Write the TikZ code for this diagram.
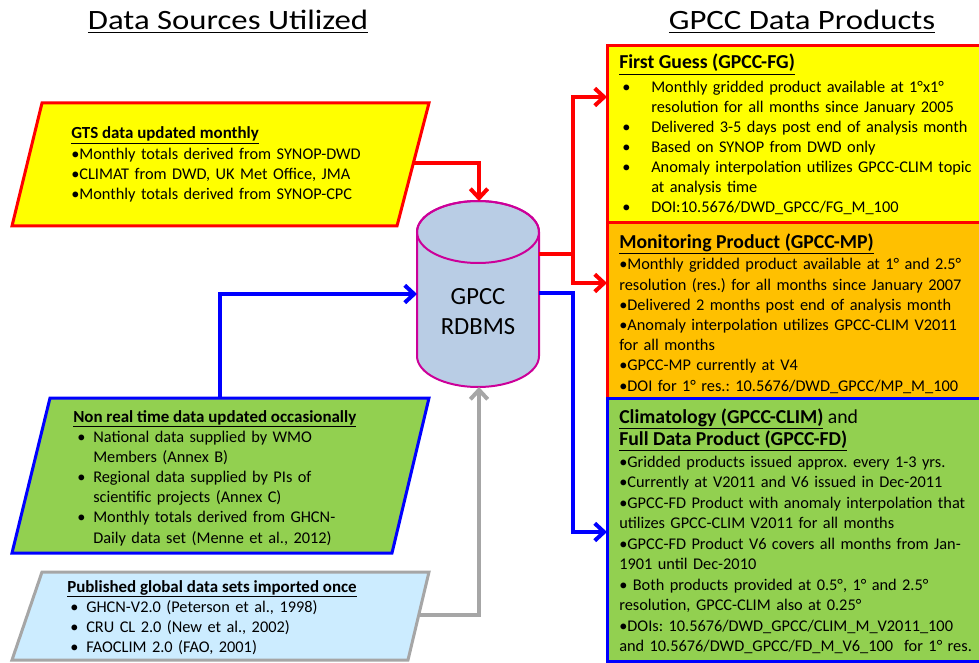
\documentclass[tikz,border=0pt]{standalone}
\usepackage{fontspec}
\setmainfont{Carlito}
\newfontfamily\titlefont[FakeStretch=1.17]{Carlito}
\usetikzlibrary{arrows.meta}
\definecolor{cyellow}{HTML}{FFFF00}
\definecolor{cred}{HTML}{FF0000}
\definecolor{corange}{HTML}{FFC000}
\definecolor{cgreen}{HTML}{92D050}
\definecolor{cblue}{HTML}{0000FF}
\definecolor{clight}{HTML}{CCECFF}
\definecolor{cgray}{HTML}{A6A6A6}
\definecolor{ccylfill}{HTML}{B9CDE5}
\definecolor{ccyldraw}{HTML}{CC0099}
\newlength\px \setlength\px{0.75pt}
\newcommand\hb[3]{\makebox[#2\px][l]{\hspace*{#1\px}•}#3}
\newcommand\hc[2]{\hspace*{#1\px}#2}
\newcommand\ttl[1]{\textbf{\underline{#1}}}
\tikzset{
  box/.style={line width=2.25pt, line join=miter},
  conn/.style={line width=3pt, line join=miter},
  arr/.style={-{Straight Barb[length=7pt,width=13pt]}},
  txt/.style={anchor=base west, inner sep=0pt, text width=370\px, align=left,
    font=\frenchspacing\fontsize{12.25}{#1}\selectfont},
  txt/.default={15},
  ltitle/.style={anchor=base west, inner sep=0pt, font=\fontsize{12.7}{15}\selectfont\bfseries},
  rtitle/.style={anchor=base west, inner sep=0pt, font=\fontsize{14.8}{17}\selectfont},
  head/.style={anchor=base, inner sep=0pt, font=\titlefont\fontsize{21}{25}\selectfont},
}
\begin{document}
\begin{tikzpicture}[x=0.75pt,y=-0.75pt]
\useasboundingbox (0,0) rectangle (979,663);
\begin{scope}
\clip (0,0) rectangle (979,663);
% titles
\node[head] (h1) at (228,30) {\underline{Data Sources Utilized}};
\node[head] (h2) at (802,30) {\underline{GPCC Data Products}};

% left boxes
\draw[box, fill=cyellow, draw=cred] (42,103) -- (429,103) -- (397,226) -- (12,226) -- cycle;
\draw[box, fill=cgreen, draw=cblue] (50,398) -- (429,398) -- (392,553) -- (12,553) -- cycle;
\draw[box, fill=clight, draw=cgray] (42,572) -- (429,572) -- (408,660) -- (12,660) -- cycle;

\node[ltitle] (gtsh) at (71,139) {\underline{GTS data updated monthly}};
\node[txt] (gts) at (71,160) {•Monthly totals derived from SYNOP-DWD\\
•CLIMAT from DWD, UK Met Office, JMA\\
•Monthly totals derived from SYNOP-CPC};

\node[ltitle] (nrth) at (73,422) {\underline{Non real time data updated occasionally}};
\node[txt=15.15] (nrt) at (73,442) {\hb{4}{20}{National data supplied by WMO}\\
\hc{20}{Members (Annex B)}\\
\hb{4}{20}{Regional data supplied by PIs of}\\
\hc{20}{scientific projects (Annex C)}\\
\hb{4}{20}{Monthly totals derived from GHCN-}\\
\hc{20}{Daily data set (Menne et al., 2012)}};

\node[ltitle] (pubh) at (67,592) {\underline{Published global data sets imported once}};
\node[txt] (pub) at (67,612) {\hb{3}{19}{GHCN-V2.0 (Peterson et al., 1998)}\\
\hb{3}{19}{CRU CL 2.0 (New et al., 2002)}\\
\hb{3}{19}{FAOCLIM 2.0 (FAO, 2001)}};

% right boxes
\draw[box, fill=cyellow, draw=cred] (607,46) rectangle (990,223);
\draw[box, fill=corange, draw=cred] (607,223) rectangle (990,398);
\draw[box, fill=cgreen, draw=cblue] (607,398) rectangle (990,661);

\node[rtitle] (fgh) at (619,69) {\ttl{First Guess (GPCC-FG)}};
\node[txt] (fg) at (619,93) {\hb{3}{32}{Monthly gridded product available at 1°x1°}\\
\hc{32}{resolution for all months since January 2005}\\
\hb{3}{32}{Delivered 3-5 days post end of analysis month}\\
\hb{3}{32}{Based on SYNOP from DWD only}\\
\hb{3}{32}{Anomaly interpolation utilizes GPCC-CLIM topic}\\
\hc{32}{at analysis time}\\
\hb{3}{32}{DOI:10.5676/DWD\_GPCC/FG\_M\_100}};

\node[rtitle] (mph) at (619,248) {\ttl{Monitoring Product (GPCC-MP)}};
\node[txt=15.15] (mp) at (619,270) {•Monthly gridded product available at 1° and 2.5°\\
resolution (res.) for all months since January 2007\\
•Delivered 2 months post end of analysis month\\
•Anomaly interpolation utilizes GPCC-CLIM V2011\\
for all months\\
•GPCC-MP currently at V4\\
•DOI for 1° res.: 10.5676/DWD\_GPCC/MP\_M\_100};

\node[rtitle] (fdh1) at (619,423) {\ttl{Climatology (GPCC-CLIM)} and};
\node[rtitle] (fdh2) at (619,445) {\ttl{Full Data Product (GPCC-FD)}};
\node[txt=15.4] (fd) at (619,467) {•Gridded products issued approx. every 1-3 yrs.\\
•Currently at V2011 and V6 issued in Dec-2011\\
•GPCC-FD Product with anomaly interpolation that\\
utilizes GPCC-CLIM V2011 for all months\\
•GPCC-FD Product V6 covers all months from Jan-\\
1901 until Dec-2010\\
• Both products provided at 0.5°, 1° and 2.5°\\
resolution, GPCC-CLIM also at 0.25°\\
•DOIs: 10.5676/DWD\_GPCC/CLIM\_M\_V2011\_100\\
and 10.5676/DWD\_GPCC/FD\_M\_V6\_100\ \ for 1° res.};

% database cylinder
\path[fill=ccylfill, draw=ccyldraw, line width=1.5pt]
  (417,232) -- (417,356) arc[start angle=180, end angle=0, x radius=61, y radius=31]
  -- (539,232) arc[start angle=0, end angle=-180, x radius=61, y radius=31] -- cycle;
\draw[draw=ccyldraw, line width=1.5pt] (478,232) ellipse [x radius=61, y radius=31];
\node[inner sep=0pt, align=center, font=\fontsize{18.5}{22.5}\selectfont] (db) at (478,312) {GPCC\\RDBMS};

% connector end points
\coordinate (dbT) at (479,201);
\coordinate (dbL) at (417,294);
\coordinate (dbB) at (479,387);
\coordinate (dbR1) at (539,254);
\coordinate (dbR2) at (539,293);
\coordinate (gtsR) at (413,163);
\coordinate (nrtT) at (220,398);
\coordinate (pubR) at (419,615);
\coordinate (split) at (573,254);
\coordinate (bturn) at (573,532);
\coordinate (fgL) at (607,97);
\coordinate (mpL) at (607,283);
\coordinate (fdL) at (607,532);

% connectors
\draw[conn, cred, arr] (gtsR) -| (dbT);
\draw[conn, cblue, arr] (nrtT) |- (dbL);
\draw[conn, cgray, arr] (pubR) -| (dbB);
\draw[conn, cred] (dbR1) -- (split);
\draw[conn, cred, arr] (split) |- (fgL);
\draw[conn, cred, arr] (split) |- (mpL);
\draw[conn, cblue, arr] (dbR2) -| (bturn) -- (fdL);
\end{scope}
\end{tikzpicture}
\end{document}
